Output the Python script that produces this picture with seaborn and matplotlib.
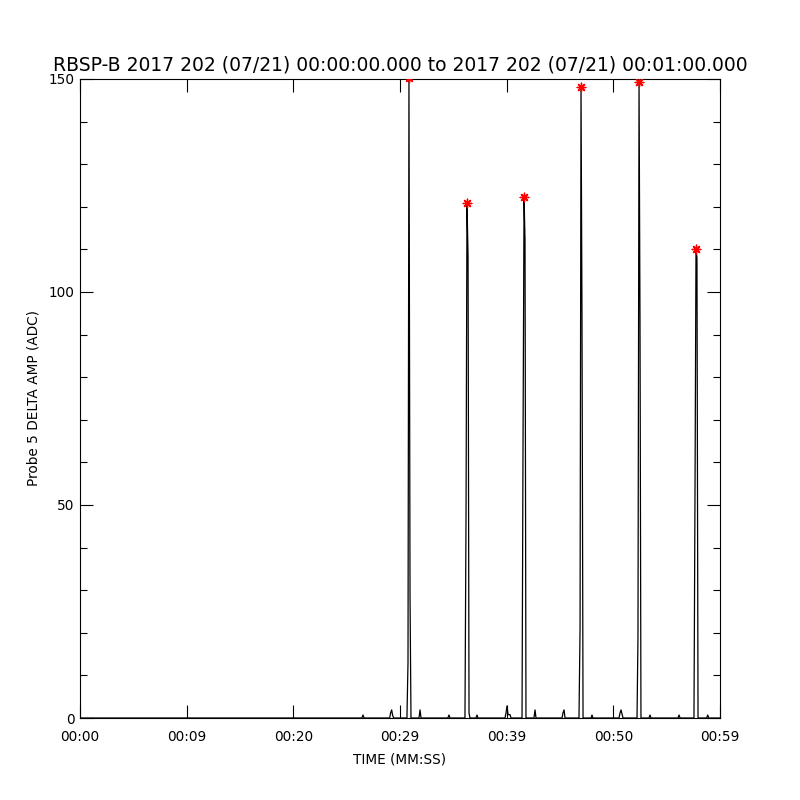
import matplotlib
matplotlib.use("Agg")
import matplotlib.pyplot as plt
from matplotlib.ticker import MultipleLocator
import pandas as pd
import seaborn as sns

# sample times (s) and amplitudes (ADC)
times = [0.0,
         26.43, 26.53, 26.63,
         29.03, 29.12, 29.22, 29.31, 29.41,
         30.65, 30.75, 30.84, 30.94, 31.03,
         31.78, 31.88, 31.97,
         34.49, 34.59, 34.69,
         36.09, 36.19, 36.28, 36.38, 36.47, 36.56,
         37.12, 37.22, 37.31,
         39.84, 39.94, 40.03, 40.13, 40.22, 40.31, 40.41,
         41.44, 41.53, 41.63, 41.72, 41.81,
         42.56, 42.66, 42.75,
         45.19, 45.28, 45.38, 45.47,
         46.78, 46.88, 46.97, 47.06, 47.16,
         47.91, 48.00, 48.09,
         50.53, 50.63, 50.72, 50.81, 50.91,
         52.22, 52.31, 52.41, 52.50, 52.59,
         53.34, 53.44, 53.53,
         56.06, 56.16, 56.25,
         57.56, 57.66, 57.75, 57.84, 57.94,
         58.75, 58.85, 58.94,
         60.0]
amps = [0.0,
        0.0, 0.7, 0.0,
        0.0, 1.2, 1.9, 0.6, 0.0,
        0.0, 13.0, 150.3, 28.5, 0.0,
        0.0, 1.9, 0.0,
        0.0, 0.7, 0.0,
        0.0, 47.6, 121.0, 108.3, 1.2, 0.0,
        0.0, 0.7, 0.0,
        0.0, 1.2, 2.8, 0.8, 0.8, 0.8, 0.0,
        0.0, 62.5, 122.3, 112.2, 0.0,
        0.0, 1.9, 0.0,
        0.0, 1.2, 1.9, 0.0,
        0.0, 21.0, 148.2, 95.0, 0.0,
        0.0, 0.7, 0.0,
        0.0, 1.2, 1.9, 1.0, 0.0,
        0.0, 19.0, 149.3, 93.0, 0.0,
        0.0, 0.7, 0.0,
        0.0, 0.7, 0.0,
        0.0, 55.0, 110.0, 108.0, 0.0,
        0.0, 0.7, 0.0,
        0.0]

peak_times = [30.84, 36.28, 41.63, 46.97, 52.41, 57.75]
peak_amps = [150.3, 121.0, 122.3, 148.2, 149.3, 110.0]

xtick_vals = [0, 10, 20, 30, 40, 50, 60]
xtick_labels = ["00:00", "00:09", "00:20", "00:29", "00:39", "00:50", "00:59"]
ytick_vals = [0, 50, 100, 150]

df = pd.DataFrame({"t": times, "amp": amps})
pk = pd.DataFrame({"t": peak_times, "amp": peak_amps})

sns.set_style("white")
plt.rcParams["font.family"] = ["DejaVu Sans"]
plt.rcParams["text.color"] = "black"
plt.rcParams["axes.labelcolor"] = "black"

fig = plt.figure(figsize=(8, 8), dpi=100)
ax = fig.add_axes([0.1, 0.1025, 0.8, 0.7988])

sns.lineplot(data=df, x="t", y="amp", sort=False, estimator=None,
             color="black", linewidth=0.9, ax=ax)
sns.scatterplot(data=pk, x="t", y="amp", marker=(8, 2, 0), s=38,
                color="red", edgecolor="red", linewidth=1.0, ax=ax, zorder=5)

ax.set_xlim(0, 60)
ax.set_ylim(0, 150)
ax.set_xticks(xtick_vals)
ax.set_xticklabels(xtick_labels)
ax.set_yticks(ytick_vals)
ax.yaxis.set_minor_locator(MultipleLocator(10))

for s in ax.spines.values():
    s.set_color("black")
    s.set_linewidth(0.8)

ax.tick_params(axis="both", which="both", direction="in",
               top=True, right=True, bottom=True, left=True,
               colors="black", labelcolor="black", labelsize=9.8, width=0.8)
ax.tick_params(axis="both", which="major", length=9.4)
ax.tick_params(axis="y", which="minor", length=5)
ax.tick_params(axis="x", which="major", pad=8.5)
ax.tick_params(axis="y", which="major", pad=4)

ax.set_title("RBSP-B 2017 202 (07/21) 00:00:00.000 to 2017 202 (07/21) 00:01:00.000",
             fontsize=13.5, pad=6, color="black")
ax.set_xlabel("TIME (MM:SS)", fontsize=9.8, labelpad=6)
ax.set_ylabel("Probe 5 DELTA AMP (ADC)", fontsize=9.8, labelpad=6)

fig.savefig("out.png", dpi=100, facecolor="white")
